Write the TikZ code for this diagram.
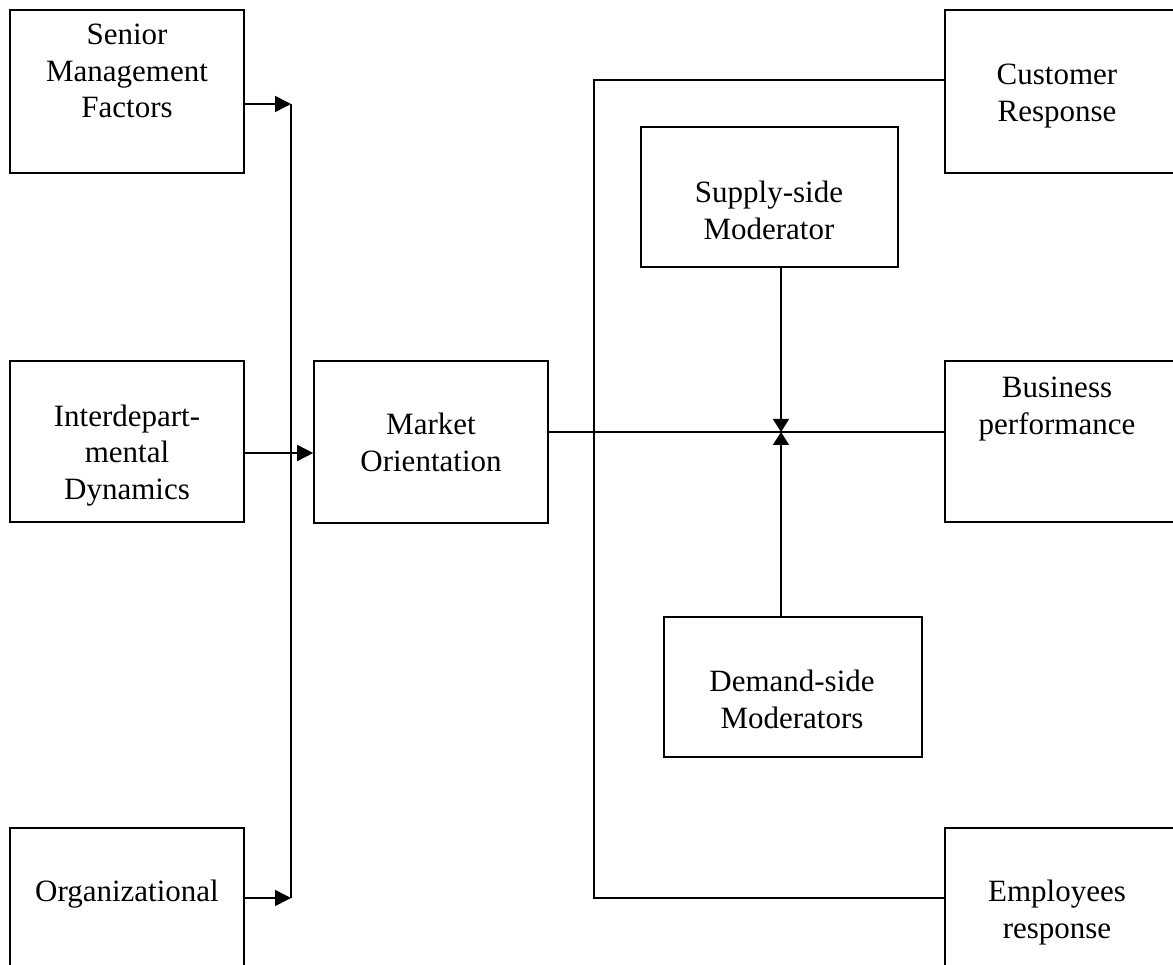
\documentclass[tikz,border=0pt]{standalone}
\usepackage{fontspec}
\setmainfont{Liberation Serif}
\usetikzlibrary{arrows.meta}

\tikzset{
  box/.style={draw, line width=1.6pt, inner sep=0pt},
  lbl/.style={font=\fontsize{31}{36.7}\selectfont, align=center, inner sep=0pt},
  link/.style={line width=1.6pt},
  arr/.style={link, -{Triangle[length=16pt, width=16pt]}},
  sarr/.style={link, -{Triangle[length=13pt, width=16pt]}}
}

\begin{document}
\begin{tikzpicture}[x=1pt, y=-1pt]
  \useasboundingbox (0,0) rectangle (1173,965);
  \clip (0,0) rectangle (1173,965);

  % antecedent boxes
  \node[box, minimum width=234, minimum height=163] (sen) at (127,91.5) {};
  \node[box, minimum width=234, minimum height=161] (int) at (127,441.5) {};
  \node[box, minimum width=234, minimum height=163] (org) at (127,909.5) {};
  \node[lbl] (senT) at (127,73.7) {Senior\strut\\Management\strut\\Factors\strut};
  \node[lbl] (intT) at (127,455.6) {Interdepart-\strut\\mental\strut\\Dynamics\strut};
  \node[lbl] (orgT) at (127,894.6) {Organizational\strut};

  % market orientation
  \node[box, minimum width=234, minimum height=162] (mo) at (431,442) {};
  \node[lbl] (moT) at (431,445.6) {Market\strut\\Orientation\strut};

  % moderators
  \node[box, minimum width=257, minimum height=140] (sup) at (769.5,197) {};
  \node[lbl] (supT) at (769,213.6) {Supply-side\strut\\Moderator\strut};
  \node[box, minimum width=258, minimum height=140] (dem) at (793,687) {};
  \node[lbl] (demT) at (792,702.6) {Demand-side\strut\\Moderators\strut};

  % consequence boxes
  \node[box, minimum width=235, minimum height=163] (cus) at (1062.5,91.5) {};
  \node[box, minimum width=235, minimum height=161] (bus) at (1062.5,441.5) {};
  \node[box, minimum width=235, minimum height=163] (emp) at (1062.5,909.5) {};
  \node[lbl] (cusT) at (1057,95.6) {Customer\strut\\Response\strut};
  \node[lbl] (busT) at (1057,408.6) {Business\strut\\performance\strut};
  \node[lbl] (empT) at (1057,912.6) {Employees\strut\\response\strut};

  % junction points
  \coordinate (jt) at (291,104);
  \coordinate (jb) at (291,898);
  \coordinate (ia) at (291,453);
  \coordinate (hl) at (781,432);
  \coordinate (bt) at (594,80);
  \coordinate (bb) at (594,898);

  % antecedents into market orientation
  \draw[link] (jt) -- (jb);
  \draw[arr] (sen.east |- jt) -- (jt);
  \draw[arr] (org.east |- jb) -- (jb);
  \draw[arr] (int.east |- ia) -- (mo.west |- ia);

  % market orientation to performance, with moderators
  \draw[link] (mo.east |- hl) -- (bus.west |- hl);
  \draw[sarr] (sup.south -| hl) -- (hl);
  \draw[sarr] (dem.north -| hl) -- (hl);

  % bracket to customer and employee responses
  \draw[link] (cus.west |- bt) -- (bt) -- (bb) -- (emp.west |- bb);
\end{tikzpicture}
\end{document}
